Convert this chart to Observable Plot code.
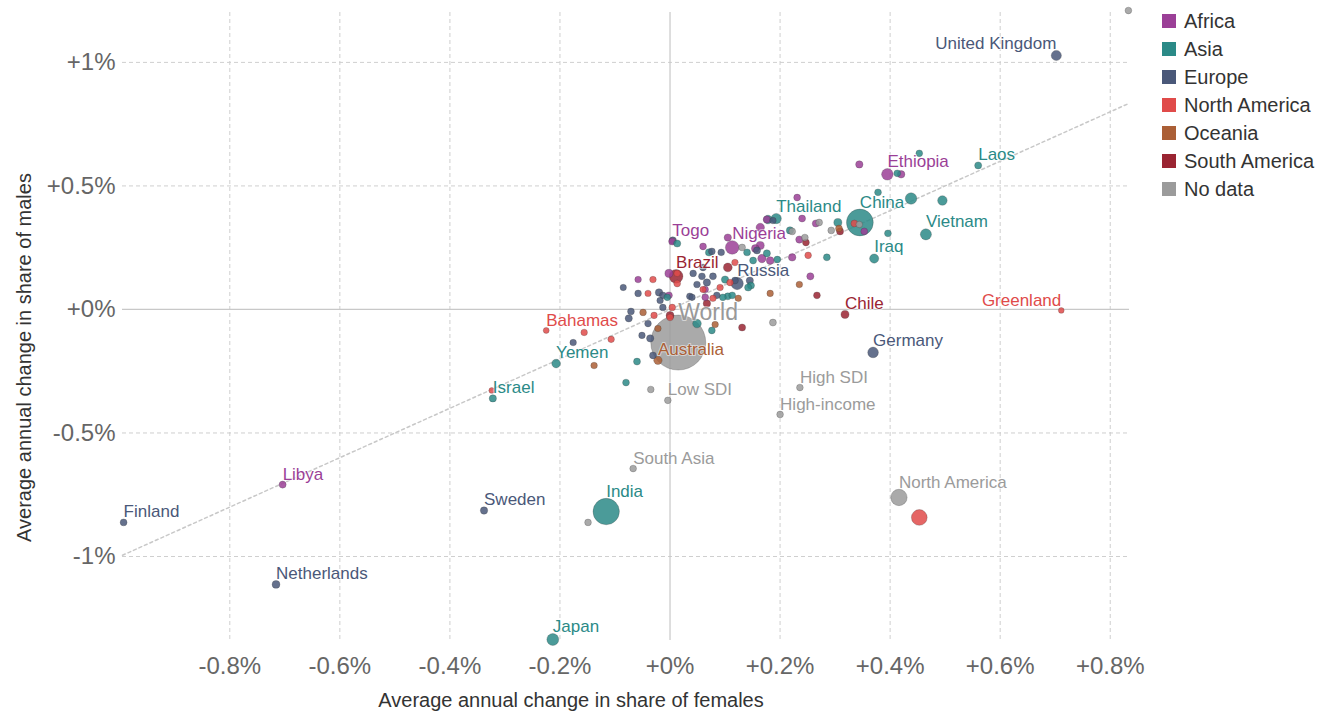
<!DOCTYPE html>
<html>
<head>
<meta charset="utf-8">
<script src="https://cdn.jsdelivr.net/npm/d3@7"></script>
<script src="https://cdn.jsdelivr.net/npm/@observablehq/plot@0.6"></script>
<style>
  html, body { margin: 0; padding: 0; background: #fff; }
  #wrap { position: relative; width: 1317px; height: 713px; font-family: "Liberation Sans", Arial, sans-serif; }
  #wrap svg g[aria-label^="x-axis"] text, #wrap svg g[aria-label^="y-axis"] text { font-size: 24px; fill: #666; }
  #legend { position: absolute; left: 1162px; top: 7px; }
  .row { height: 28px; display: flex; align-items: center; font-size: 20px; color: #333; }
  .sw { width: 14px; height: 14px; margin-right: 8px; flex: none; }
</style>
</head>
<body>
<div id="wrap"><div id="legend"></div></div>
<script>
// ---- data: [name, femaleChange %, maleChange %, bubble size (≈ population, millions)]
const continents = ["Africa", "Asia", "Europe", "North America", "Oceania", "South America", "No data"];
const continentColors = ["#9b3f97", "#2b8a87", "#4a5879", "#e04b4a", "#ab5f36", "#9a2432", "#9b9b9b"];

const africa = [
  ["Ethiopia", 0.395, 0.547, 115], ["Togo", 0.004, 0.275, 8], ["Nigeria", 0.113, 0.251, 206], ["Libya", -0.704, -0.709, 7],
  ["", 0.344, 0.587, 10], ["", 0.42, 0.547, 12], ["", 0.231, 0.453, 5], ["", 0.24, 0.368, 6], ["", 0.265, 0.348, 8],
  ["", 0.353, 0.316, 5], ["", 0.164, 0.332, 25], ["", 0.176, 0.364, 10], ["", 0.235, 0.283, 9], ["", 0.222, 0.211, 12],
  ["", 0.255, 0.134, 8], ["", 0.06, 0.255, 5], ["", 0.105, 0.291, 10], ["", 0.164, 0.259, 20], ["", 0.155, 0.247, 15],
  ["", 0.167, 0.206, 25], ["", 0.182, 0.198, 14], ["", -0.002, 0.146, 20], ["", -0.058, 0.121, 3], ["", -0.002, 0.057, 6],
  ["", 0.064, 0.081, 3], ["", 0.064, 0.049, 5]
];
const asia = [
  ["Laos", 0.56, 0.583, 7], ["China", 0.345, 0.352, 1440], ["Vietnam", 0.465, 0.304, 97], ["Iraq", 0.371, 0.206, 40],
  ["Thailand", 0.193, 0.368, 70], ["Yemen", -0.207, -0.219, 30], ["Israel", -0.322, -0.36, 9], ["India", -0.116, -0.818, 1380],
  ["Japan", -0.213, -1.336, 126],
  ["", 0.413, 0.551, 5], ["", 0.453, 0.632, 4], ["", 0.378, 0.474, 5], ["", 0.438, 0.449, 110], ["", 0.495, 0.441, 50],
  ["", 0.396, 0.308, 5], ["", 0.305, 0.352, 20], ["", 0.178, 0.364, 30], ["", 0.218, 0.32, 10], ["", 0.285, 0.211, 6],
  ["", 0.013, 0.267, 8], ["", 0.071, 0.231, 10], ["", 0.14, 0.231, 6], ["", 0.176, 0.227, 8], ["", 0.195, 0.202, 5],
  ["", 0.151, 0.198, 6], ["", 0.1, 0.121, 10], ["", 0.147, 0.097, 8], ["", 0.096, 0.049, 5], ["", 0.105, 0.053, 6],
  ["", 0.113, 0.057, 5], ["", -0.005, 0.049, 4], ["", 0.049, -0.057, 30], ["", 0.076, -0.085, 5], ["", -0.06, -0.211, 6],
  ["", -0.08, -0.296, 5], ["", 0.142, 0.089, 8]
];
const europe = [
  ["United Kingdom", 0.702, 1.028, 67], ["Russia", 0.122, 0.105, 145], ["Germany", 0.369, -0.174, 83],
  ["Sweden", -0.338, -0.814, 10], ["Finland", -0.993, -0.862, 5.5], ["Netherlands", -0.716, -1.113, 17],
  ["", 0.005, 0.279, 10], ["", 0.076, 0.235, 5], ["", 0.093, 0.231, 4], ["", 0.158, 0.239, 8], ["", 0.187, 0.36, 3],
  ["", 0.06, 0.17, 5], ["", 0.042, 0.146, 4], ["", 0.078, 0.134, 6], ["", 0.067, 0.109, 10], ["", 0.118, 0.117, 5],
  ["", 0.145, 0.117, 9], ["", 0.04, 0.049, 3], ["", 0.085, 0.057, 4], ["", -0.013, 0.057, 5], ["", -0.085, 0.089, 2],
  ["", -0.058, 0.065, 4], ["", -0.02, 0.069, 11], ["", -0.018, 0.036, 3], ["", -0.013, 0.008, 4], ["", -0.071, -0.008, 5],
  ["", -0.075, -0.036, 9], ["", -0.04, -0.057, 4], ["", -0.051, -0.105, 3], ["", -0.036, -0.117, 10], ["", -0.031, -0.186, 6],
  ["", -0.176, -0.134, 3], ["", 0.058, 0.134, 5], ["", 0.049, 0.101, 4], ["", 0.036, 0.053, 4]
];
const northAmerica = [
  ["Bahamas", -0.225, -0.085, 0.4], ["Greenland", 0.711, -0.004, 0.06], ["", 0.453, -0.842, 330],
  ["", 0.335, 0.348, 5], ["", 0.251, 0.219, 4], ["", 0.118, 0.19, 3], ["", 0.013, 0.146, 3], ["", 0.013, 0.105, 5],
  ["", 0.109, 0.109, 4], ["", 0.091, 0.089, 3], ["", 0.06, 0.081, 2], ["", 0.078, 0.045, 3], ["", -0.031, 0.121, 3],
  ["", -0.04, 0.065, 2], ["", 0.004, 0.008, 4], ["", -0.029, -0.024, 3], ["", -0.156, -0.093, 3], ["", -0.107, -0.121, 3],
  ["", 0, -0.032, 5], ["", -0.324, -0.328, 0.05]
];
const oceania = [
  ["Australia", -0.022, -0.206, 25], ["", 0.307, 0.328, 5], ["", 0.235, 0.101, 3], ["", 0.182, 0.065, 3],
  ["", 0.124, 0.045, 3], ["", -0.049, -0.012, 4], ["", -0.022, -0.077, 3], ["", -0.138, -0.227, 3], ["", 0.082, -0.061, 3]
];
const southAmerica = [
  ["Brazil", 0.011, 0.134, 212], ["Chile", 0.318, -0.02, 19], ["", 0.247, 0.271, 5], ["", 0.267, 0.057, 5],
  ["", 0.131, -0.073, 7], ["", 0.105, 0.17, 33], ["", 0.067, 0.024, 11], ["", 0, -0.024, 18], ["", 0.309, 0.316, 7]
];
const noData = [
  ["World", 0.015, -0.134, 7800], ["Low SDI", -0.004, -0.368, 4], ["High SDI", 0.236, -0.316, 4],
  ["High-income", 0.2, -0.425, 4], ["South Asia", -0.067, -0.644, 4], ["North America", 0.416, -0.761, 370],
  ["", -0.149, -0.862, 4], ["", 0.833, 1.21, 4], ["", -0.035, -0.324, 4], ["", 0.187, -0.053, 6], ["", 0.271, 0.352, 5],
  ["", 0.293, 0.32, 5], ["", 0.245, 0.291, 5], ["", 0.131, 0.251, 5], ["", 0.344, 0.344, 3], ["", 0.222, 0.316, 5]
];

const xTicks = [-0.8, -0.6, -0.4, -0.2, 0, 0.2, 0.4, 0.6, 0.8];
const yTicks = [-1, -0.5, 0, 0.5, 1];
const xDomain = [-0.995, 0.835];
const yDomain = [-1.34, 1.202];
const sizeDomain = [0, 7800];
const radiusRange = [2.8, 27.5];
const xLabel = "Average annual change in share of females";
const yLabel = "Average annual change in share of males";
const endAnchored = ["United Kingdom", "Greenland"];

// ---- build table
const groups = [africa, asia, europe, northAmerica, oceania, southAmerica, noData];
const points = groups.flatMap((g, i) => g.map(([name, x, y, size]) => ({name, x, y, size, continent: continents[i]})));
const colorOf = Object.fromEntries(continents.map((c, i) => [c, continentColors[i]]));
const rOf = d3.scaleSqrt().domain(sizeDomain).range(radiusRange);
const pct = d => (d >= 0 ? "+" : "-") + Math.abs(d) + "%";

const labelMarks = points.filter(d => d.name).map(d => {
  const isWorld = d.name === "World";
  return Plot.text([d], {
    x: "x", y: "y", text: "name",
    fill: isWorld ? "#999" : colorOf[d.continent],
    fontSize: isWorld ? 23 : 17,
    textAnchor: endAnchored.includes(d.name) ? "end" : "start",
    dy: -(rOf(d.size) + (isWorld ? 2 : 7)),
    stroke: "white", strokeWidth: 2, strokeOpacity: 0.5
  });
});

const chart = Plot.plot({
  width: 1317, height: 713,
  marginLeft: 122, marginRight: 188, marginTop: 12, marginBottom: 73,
  style: {fontFamily: "'Liberation Sans', Arial, sans-serif", fontSize: "24px", color: "#666", background: "white"},
  x: {domain: xDomain, ticks: xTicks, tickFormat: pct, tickSize: 0, tickPadding: 16, label: null},
  y: {domain: yDomain, ticks: yTicks, tickFormat: pct, tickSize: 0, tickPadding: 7, label: null},
  r: {type: "sqrt", domain: sizeDomain, range: radiusRange},
  color: {domain: continents, range: continentColors},
  marks: [
    Plot.ruleX(xTicks.filter(v => v !== 0), {stroke: "#cfcfcf", strokeDasharray: "4,3"}),
    Plot.ruleY(yTicks.filter(v => v !== 0), {stroke: "#cfcfcf", strokeDasharray: "4,3"}),
    Plot.ruleX([0], {stroke: "#c8c8c8", strokeWidth: 1.2}),
    Plot.ruleY([0], {stroke: "#c8c8c8", strokeWidth: 1.2}),
    Plot.line(xDomain.map(v => ({x: v, y: v})), {x: "x", y: "y", stroke: "#c8c8c8", strokeDasharray: "3,3"}),
    Plot.dot(points, {x: "x", y: "y", r: "size", fill: "continent", fillOpacity: 0.85, stroke: "#333", strokeOpacity: 0.35, strokeWidth: 0.7}),
    ...labelMarks,
    Plot.text([xLabel], {text: d => d, frameAnchor: "bottom", textAnchor: "middle", lineAnchor: "middle", dy: 60, dx: -55, fontSize: 20, fill: "#333"}),
    Plot.text([yLabel], {text: d => d, frameAnchor: "left", textAnchor: "middle", lineAnchor: "middle", rotate: -90, dx: -98, dy: 31, fontSize: 20, fill: "#333"})
  ]
});
document.getElementById("wrap").prepend(chart);

// ---- legend
const legend = document.getElementById("legend");
continents.forEach((c, i) => {
  const row = document.createElement("div");
  row.className = "row";
  const sw = document.createElement("span");
  sw.className = "sw";
  sw.style.background = continentColors[i];
  const t = document.createElement("span");
  t.textContent = c;
  row.append(sw, t);
  legend.append(row);
});
</script>
</body>
</html>
